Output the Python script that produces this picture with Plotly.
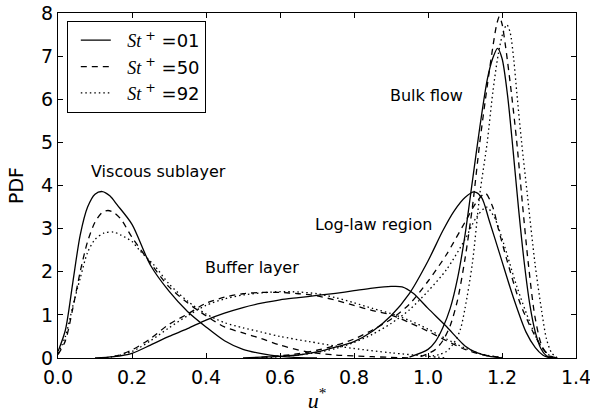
import plotly.graph_objects as go

# PDF of streamwise velocity u* in four wall regions, for three St+ values.
# Each curve is given as (u*, PDF) sample points.

# --- Viscous sublayer ---
visc_u_01 = [0.0, 0.02, 0.04, 0.06, 0.08, 0.10, 0.12, 0.14, 0.16, 0.20, 0.25, 0.30, 0.35, 0.40, 0.45, 0.50, 0.55, 0.60, 0.65, 0.70]
visc_p_01 = [0.15, 0.65, 1.75, 2.85, 3.5, 3.8, 3.86, 3.76, 3.55, 3.1, 2.15, 1.55, 1.08, 0.72, 0.4, 0.2, 0.1, 0.04, 0.01, 0.0]
visc_u_50 = [0.0, 0.02, 0.04, 0.06, 0.08, 0.10, 0.12, 0.135, 0.15, 0.17, 0.20, 0.25, 0.30, 0.35, 0.40, 0.45, 0.50, 0.55, 0.60, 0.67, 0.75, 0.85, 0.95]
visc_p_50 = [0.08, 0.4, 1.15, 2.0, 2.7, 3.15, 3.38, 3.42, 3.38, 3.22, 2.8, 2.2, 1.65, 1.28, 0.98, 0.72, 0.58, 0.45, 0.3, 0.15, 0.07, 0.03, 0.0]
visc_u_92 = [0.0, 0.02, 0.04, 0.06, 0.08, 0.10, 0.125, 0.15, 0.17, 0.20, 0.22, 0.26, 0.30, 0.35, 0.40, 0.45, 0.50, 0.55, 0.60, 0.68, 0.75, 0.80, 0.90, 1.00, 1.05]
visc_p_92 = [0.1, 0.5, 1.2, 1.85, 2.45, 2.75, 2.9, 2.92, 2.85, 2.7, 2.5, 2.15, 1.72, 1.32, 1.02, 0.82, 0.7, 0.6, 0.5, 0.38, 0.28, 0.22, 0.12, 0.04, 0.0]

# --- Buffer layer ---
buf_u_01 = [0.10, 0.15, 0.20, 0.25, 0.30, 0.35, 0.40, 0.45, 0.50, 0.55, 0.60, 0.65, 0.70, 0.75, 0.80, 0.85, 0.90, 0.93, 0.96, 1.00, 1.05, 1.08, 1.10, 1.13, 1.16, 1.20]
buf_p_01 = [0.0, 0.03, 0.11, 0.3, 0.5, 0.68, 0.88, 1.04, 1.17, 1.27, 1.35, 1.4, 1.45, 1.5, 1.56, 1.62, 1.66, 1.65, 1.5, 1.15, 0.73, 0.45, 0.28, 0.13, 0.05, 0.0]
buf_u_50 = [0.12, 0.15, 0.20, 0.25, 0.30, 0.35, 0.40, 0.45, 0.50, 0.55, 0.60, 0.65, 0.70, 0.75, 0.80, 0.85, 0.90, 0.95, 1.00, 1.05, 1.10, 1.15, 1.20]
buf_p_50 = [0.0, 0.03, 0.19, 0.45, 0.78, 1.02, 1.27, 1.41, 1.49, 1.52, 1.52, 1.49, 1.44, 1.34, 1.22, 1.1, 1.0, 0.82, 0.62, 0.4, 0.2, 0.07, 0.01]
buf_u_92 = [0.13, 0.20, 0.25, 0.30, 0.35, 0.40, 0.45, 0.50, 0.55, 0.60, 0.65, 0.70, 0.75, 0.80, 0.85, 0.90, 0.95, 1.00, 1.05, 1.10, 1.15, 1.20]
buf_p_92 = [0.0, 0.15, 0.4, 0.7, 0.98, 1.22, 1.37, 1.46, 1.51, 1.54, 1.53, 1.49, 1.4, 1.28, 1.15, 1.03, 0.87, 0.67, 0.44, 0.23, 0.08, 0.01]

# --- Log-law region ---
log_u_01 = [0.50, 0.55, 0.60, 0.65, 0.70, 0.75, 0.80, 0.85, 0.90, 0.95, 1.00, 1.04, 1.07, 1.10, 1.125, 1.145, 1.165, 1.195, 1.23, 1.265, 1.29, 1.31, 1.33]
log_p_01 = [0.0, 0.02, 0.04, 0.07, 0.14, 0.25, 0.38, 0.62, 0.98, 1.5, 2.25, 2.95, 3.4, 3.72, 3.85, 3.72, 3.2, 2.38, 1.42, 0.6, 0.24, 0.07, 0.0]
log_u_50 = [0.55, 0.60, 0.65, 0.70, 0.75, 0.80, 0.85, 0.90, 0.95, 1.00, 1.05, 1.10, 1.13, 1.155, 1.175, 1.19, 1.213, 1.249, 1.285, 1.31, 1.33, 1.35]
log_p_50 = [0.02, 0.05, 0.1, 0.18, 0.29, 0.44, 0.65, 0.9, 1.25, 1.78, 2.4, 3.15, 3.6, 3.82, 3.5, 3.0, 2.28, 1.27, 0.58, 0.22, 0.05, 0.0]
log_u_92 = [0.55, 0.60, 0.65, 0.70, 0.75, 0.80, 0.85, 0.90, 0.95, 1.00, 1.05, 1.10, 1.13, 1.158, 1.18, 1.204, 1.24, 1.276, 1.30, 1.321, 1.34]
log_p_92 = [0.0, 0.03, 0.07, 0.13, 0.22, 0.36, 0.55, 0.8, 1.12, 1.55, 2.05, 2.75, 3.25, 3.5, 3.25, 2.67, 1.66, 0.81, 0.35, 0.11, 0.0]

# --- Bulk flow ---
bulk_u_01 = [0.95, 1.00, 1.02, 1.04, 1.06, 1.08, 1.10, 1.12, 1.14, 1.16, 1.175, 1.188, 1.20, 1.215, 1.23, 1.245, 1.26, 1.275, 1.29, 1.305, 1.32, 1.335]
bulk_p_01 = [0.02, 0.2, 0.38, 0.7, 1.15, 1.85, 2.85, 4.1, 5.35, 6.45, 6.95, 7.18, 6.95, 6.09, 4.81, 3.44, 2.22, 1.25, 0.6, 0.22, 0.05, 0.0]
bulk_u_50 = [0.98, 1.00, 1.02, 1.04, 1.06, 1.08, 1.10, 1.12, 1.14, 1.16, 1.175, 1.186, 1.193, 1.20, 1.21, 1.226, 1.24, 1.255, 1.271, 1.289, 1.307, 1.325, 1.34]
bulk_p_50 = [0.03, 0.1, 0.2, 0.4, 0.75, 1.35, 2.3, 3.5, 5.0, 6.3, 7.2, 7.75, 7.92, 7.75, 7.2, 6.1, 5.0, 3.6, 2.2, 0.96, 0.3, 0.06, 0.0]
bulk_u_92 = [1.00, 1.03, 1.05, 1.07, 1.087, 1.10, 1.12, 1.14, 1.16, 1.175, 1.19, 1.203, 1.213, 1.222, 1.232, 1.24, 1.253, 1.269, 1.289, 1.307, 1.32, 1.334, 1.35]
bulk_p_92 = [0.03, 0.08, 0.15, 0.35, 0.65, 1.15, 2.2, 3.8, 5.0, 6.15, 7.05, 7.55, 7.73, 7.55, 6.9, 6.15, 5.0, 3.75, 2.2, 1.1, 0.45, 0.12, 0.0]

# Legend labels and line styles for each St+ value
st_labels = ["01", "50", "92"]
line_dashes = ["solid", "6px,5px", "1.5px,3px"]

region_curves = [
    [(visc_u_01, visc_p_01), (visc_u_50, visc_p_50), (visc_u_92, visc_p_92)],
    [(buf_u_01, buf_p_01), (buf_u_50, buf_p_50), (buf_u_92, buf_p_92)],
    [(log_u_01, log_p_01), (log_u_50, log_p_50), (log_u_92, log_p_92)],
    [(bulk_u_01, bulk_p_01), (bulk_u_50, bulk_p_50), (bulk_u_92, bulk_p_92)],
]

# Region labels and their (u*, PDF) anchor points
region_names = ["Viscous sublayer", "Buffer layer", "Log-law region", "Bulk flow"]
region_label_u = [0.272, 0.523, 0.853, 0.995]
region_label_p = [4.32, 2.09, 3.09, 6.08]

serif = "'Liberation Serif', 'DejaVu Serif', serif"
sans = "DejaVu Sans"

fig = go.Figure()
for r, curves in enumerate(region_curves):
    for k, (u, p) in enumerate(curves):
        name = (f"&nbsp;&nbsp;<span style=\"font-family:{serif}\"><i>St</i></span>"
                f"<sup> +</sup> =" + st_labels[k])
        fig.add_trace(go.Scatter(
            x=u, y=p, mode="lines", name=name,
            legendgroup=st_labels[k], showlegend=(r == 0),
            line=dict(color="black", width=1.3, dash=line_dashes[k],
                      shape="spline", smoothing=0.8),
            hoverinfo="skip",
        ))

for name, lu, lp in zip(region_names, region_label_u, region_label_p):
    fig.add_annotation(x=lu, y=lp, text=name, showarrow=False,
                       font=dict(family=sans, size=16, color="black"),
                       xanchor="center", yanchor="middle")

axis_common = dict(
    showline=True, linecolor="black", linewidth=1, mirror="allticks",
    ticks="inside", ticklen=5, tickcolor="black", tickwidth=1,
    showgrid=False, zeroline=False, ticklabeloverflow="allow",
    automargin=False,
    tickfont=dict(family=sans, size=19, color="black"),
)

fig.update_xaxes(range=[0, 1.4], tickvals=[0, 0.2, 0.4, 0.6, 0.8, 1.0, 1.2, 1.4],
                 tickformat=".1f", ticklabelstandoff=2,
                 title=dict(text="<i>u</i><sup>*</sup>",
                            font=dict(family=serif, size=22, color="black"),
                            standoff=5),
                 **axis_common)
fig.update_yaxes(range=[0, 8], tickvals=list(range(0, 9)),
                 title=dict(text="PDF", font=dict(family=sans, size=19, color="black"),
                            standoff=12),
                 **axis_common)

fig.update_layout(
    width=590, height=417,
    margin=dict(l=58, r=14, t=13, b=59),
    paper_bgcolor="white", plot_bgcolor="white",
    legend=dict(x=0.017, y=0.977, xanchor="left", yanchor="top",
                bgcolor="white", bordercolor="black", borderwidth=1,
                font=dict(family=sans, size=18, color="black"),
                indentation=8, itemwidth=30, tracegroupgap=0),
    showlegend=True,
)

fig.write_html("out.html")
